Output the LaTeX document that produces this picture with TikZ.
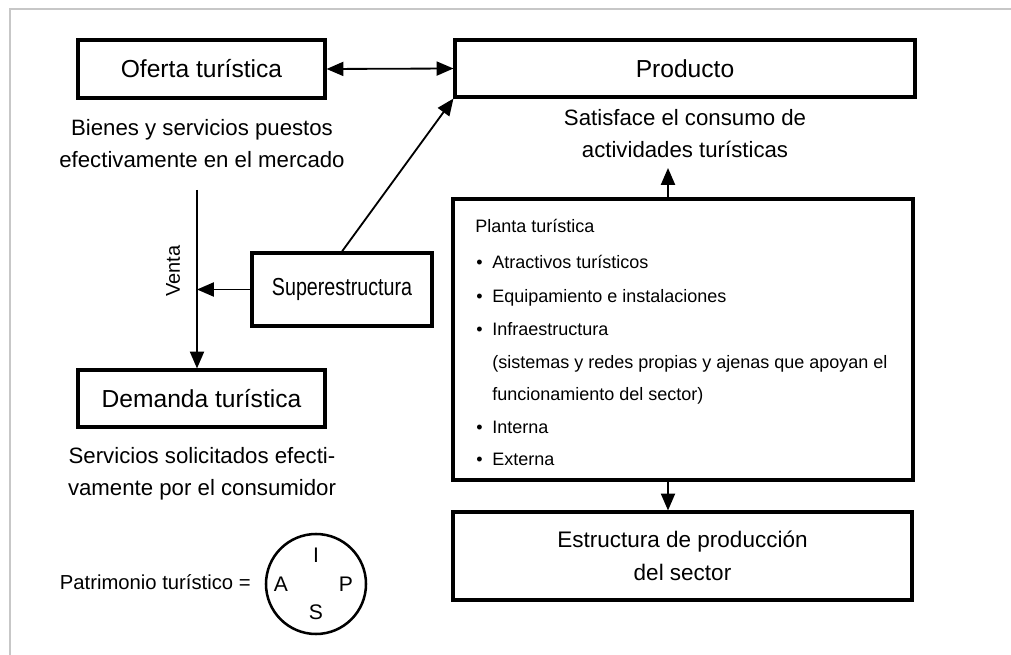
\documentclass[tikz,border=0pt]{standalone}
\usepackage{fontspec}
\setmainfont{Liberation Sans}
\newfontfamily\narrowsans{Liberation Sans}[FakeStretch=0.8]
\usepackage{tikz}
\usetikzlibrary{arrows.meta,positioning,calc}

\begin{document}
\begin{tikzpicture}[x=0.025cm, y=-0.025cm,
            box/.style={draw, rectangle, line width=2.2pt, inner sep=0pt, align=center,
                 font={\fontsize{17.5}{23.5}\selectfont}},
            desc/.style={inner sep=0pt, align=center, font={\fontsize{15.8}{22.8}\selectfont}},
            item/.style={inner sep=0pt, anchor=base west, font={\fontsize{12.8}{15}\selectfont}},
            conn/.style={line width=1.3pt, -{Triangle[length=12pt,width=10pt]}}
            ]

            % Frame and page size
            \useasboundingbox (0,0) rectangle (1011,655);
            \draw[black!22, line width=0.8pt] (10,655) -- (10,9) -- (1011,9);

            % Boxes with manual coordinates
            \node[box, minimum width=247*0.025cm, minimum height=58*0.025cm] (oferta) at (201.5,69) {Oferta turística};
            \node[box, minimum width=460*0.025cm, minimum height=57*0.025cm] (producto) at (685,68.5) {Producto};
            \node[box, minimum width=180*0.025cm, minimum height=73*0.025cm,
                  font={\narrowsans\fontsize{17.5}{21}\selectfont}] (super) at (342,289.5) {Superestructura};
            \node[box, minimum width=247*0.025cm, minimum height=57*0.025cm] (demanda) at (201.5,398.5) {Demanda turística};
            \node[box, minimum width=460*0.025cm, minimum height=281*0.025cm] (planta) at (683,339.5) {};
            \node[box, minimum width=459*0.025cm, minimum height=88*0.025cm,
                  font={\fontsize{16}{23.5}\selectfont}] (estructura) at (682.5,556) {Estructura de producción\\del sector};

            % Descriptions
            \node[desc] (bienes) at (202,144) {Bienes y servicios puestos\\efectivamente en el mercado};
            \node[desc] (satisface) at (685,134) {Satisface el consumo de\\actividades turísticas};
            \node[desc] (servicios) at (202,474) {Servicios solicitados efecti-\\vamente por el consumidor};
            \node[inner sep=0pt, rotate=90, font={\fontsize{14.2}{16}\selectfont}] (venta) at (173,271) {Venta};

            % Planta turistica contents
            \node[item] (plantatit) at (475,233) {Planta turística};
            \foreach \yy/\txt [count=\i] in {269/Atractivos turísticos, 303/Equipamiento e instalaciones,
                    336/Infraestructura, 433/Interna, 465/Externa} {
                \node[item] (bul\i) at (476,\yy) {•};
                \node[item] (itm\i) at (492,\yy) {\txt};
            }
            \node[item] (sist) at (492,368) {(sistemas y redes propias y ajenas que apoyan el};
            \node[item] (func) at (492,400) {funcionamiento del sector)};

            % Patrimonio
            \node[inner sep=0pt, anchor=east, font={\fontsize{14.4}{16}\selectfont}] (patri) at (251,582) {Patrimonio turístico =};
            \node[draw, circle, line width=1.8pt, minimum size=100*0.025cm, inner sep=0pt] (aisp) at (316,584) {};
            \foreach \xx/\yy/\ltr in {316/555/I, 281/584/A, 346/584/P, 316/612/S}
                \node[inner sep=0pt, font={\fontsize{15}{16}\selectfont}] (aisp\ltr) at (\xx,\yy) {\ltr};

            % Arrows
            \coordinate (ventatop) at (197,190);
            \coordinate (plantaup) at (668,168);
            \draw[line width=1.3pt, {Triangle[length=12pt,width=10pt]}-{Triangle[length=12pt,width=10pt]}] (oferta.east) -- (producto.west);
            \draw[conn] (ventatop) -- (ventatop |- demanda.north);
            \draw[conn] (super.west) -- (super.west -| ventatop);
            \draw[conn] (super.north) -- (producto.south west);
            \draw[conn] (plantaup |- planta.north) -- (plantaup);
            \draw[conn] (plantaup |- planta.south) -- (plantaup |- estructura.north);
        \end{tikzpicture}
\end{document}
